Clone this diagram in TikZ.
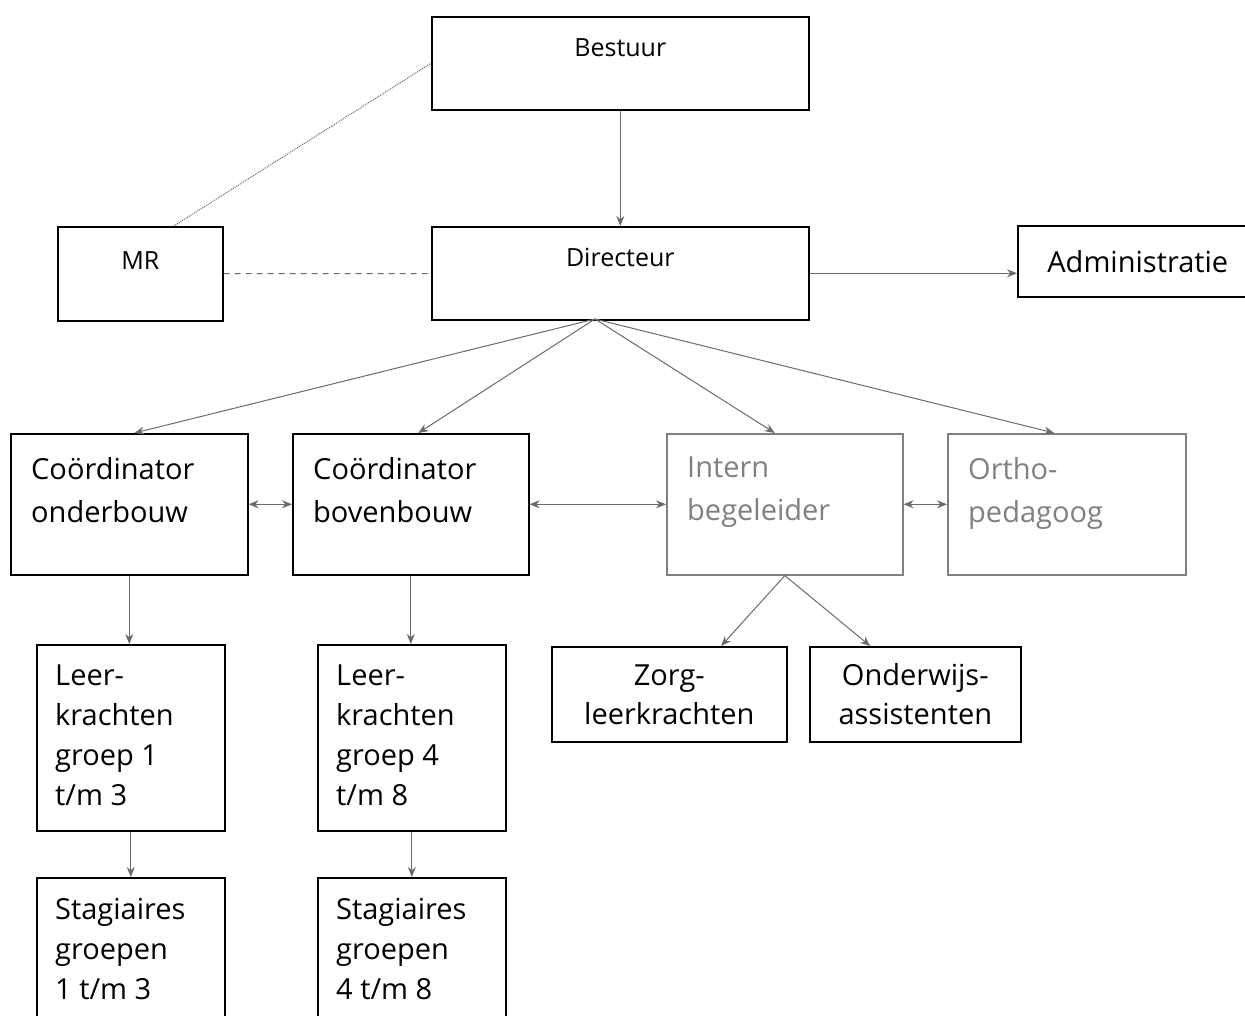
\documentclass[tikz,border=0pt]{standalone}
\usepackage{fontspec}
\setmainfont{Open Sans}
\usetikzlibrary{positioning}
\usetikzlibrary{arrows.meta}

\definecolor{lijngrijs}{gray}{0.42}
\definecolor{ibgrijs}{gray}{0.5}

\tikzset{
	blok/.style = {draw = black, line width = 1.6pt, rectangle, anchor = north west, inner sep = 0pt},
	grijsblok/.style = {blok, draw = ibgrijs},
	kop/.style = {anchor = north, inner sep = 0pt, font = \fontsize{25}{30}\selectfont, yshift = -22pt},
	binnen/.style = {anchor = north west, align = left, inner sep = 0pt, font = \fontsize{29}{43}\selectfont, xshift = 21pt, yshift = -24pt},
	binnenlk/.style = {anchor = north west, align = left, inner sep = 0pt, font = \fontsize{29}{40}\selectfont, xshift = 19pt, yshift = -21pt},
	lijn/.style = {lijngrijs, line width = 1pt},
	pijl/.style = {lijn, -{Stealth[length = 10pt, width = 8pt]}},
	dubbelpijl/.style = {lijn, {Stealth[length = 10pt, width = 8pt]}-{Stealth[length = 10pt, width = 8pt]}}
}

\begin{document}
\begin{tikzpicture}[x = 1pt, y = -1pt]
	\clip (0, 0) rectangle (1245, 1015);
	\fill [white] (0, 0) rectangle (1245, 1015);

	\node [blok, minimum width = 377pt, minimum height = 93pt, label = {[kop]north:Bestuur}] (bestuur) at (431, 16) {};
	\node [blok, minimum width = 377pt, minimum height = 93pt, label = {[kop]north:Directeur}] (directeur) at (431, 226) {};
	\node [blok, minimum width = 165pt, minimum height = 94pt, label = {[kop, yshift = -3pt]north:MR}] (mr) at (57, 226) {};
	\node [blok, minimum width = 240pt, minimum height = 71pt, font = \fontsize{29}{34}\selectfont] (admin) at (1017, 225) {Administratie};

	\node [blok, minimum width = 237pt, minimum height = 141pt, label = {[binnen]north west:Coördinator\\onderbouw}] (coon) at (10, 433) {};
	\node [blok, minimum width = 236pt, minimum height = 141pt, label = {[binnen]north west:Coördinator\\bovenbouw}] (cobo) at (292, 433) {};
	\node [grijsblok, minimum width = 236pt, minimum height = 141pt, label = {[binnen, ibgrijs]north west:Intern\\begeleider}] (ib) at (666, 433) {};
	\node [grijsblok, minimum width = 238pt, minimum height = 141pt, label = {[binnen, ibgrijs]north west:Ortho-\\pedagoog}] (op) at (947, 433) {};

	\node [blok, minimum width = 188pt, minimum height = 186pt, label = {[binnenlk]north west:Leer-\\krachten\\groep 1\\t/m 3}] (lk1) at (36, 644) {};
	\node [blok, minimum width = 188pt, minimum height = 186pt, label = {[binnenlk]north west:Leer-\\krachten\\groep 4\\t/m 8}] (lk4) at (317, 644) {};
	\node [blok, minimum width = 188pt, minimum height = 160pt, label = {[binnenlk]north west:Stagiaires\\groepen\\1 t/m 3}] (st1) at (36, 877) {};
	\node [blok, minimum width = 188pt, minimum height = 160pt, label = {[binnenlk]north west:Stagiaires\\groepen\\4 t/m 8}] (st4) at (317, 877) {};

	\node [blok, minimum width = 235pt, minimum height = 95pt, align = center, font = \fontsize{29}{39}\selectfont] (zorg) at (551, 646) {Zorg-\\leerkrachten};
	\node [blok, minimum width = 211pt, minimum height = 95pt, align = center, font = \fontsize{29}{39}\selectfont] (ow) at (809, 646) {Onderwijs-\\assistenten};

	\coordinate (dapex) at (595, 319);

	\draw [lijn, densely dotted] (mr.55) -- (bestuur.west);
	\draw [lijn, dash pattern = on 6pt off 5pt] (mr) -- (directeur);
	\draw [pijl] (bestuur) -- (directeur);
	\draw [pijl] (directeur.east) -- (directeur.east -| admin.west);

	\draw [pijl] (dapex) -- (coon.86);
	\draw [pijl] (dapex) -- (cobo.84);
	\draw [pijl] (dapex) -- (ib.98);
	\draw [pijl] (dapex) -- (op.100);

	\draw [dubbelpijl] (coon) -- (cobo);
	\draw [dubbelpijl] (cobo) -- (ib);
	\draw [dubbelpijl] (ib) -- (op);

	\draw [pijl] (coon.south) -- (coon.south |- lk1.north);
	\draw [pijl] (cobo.south) -- (cobo.south |- lk4.north);
	\draw [pijl] (lk1) -- (st1);
	\draw [pijl] (lk4) -- (st4);

	\draw [pijl] (ib.south) -- (zorg.43);
	\draw [pijl] (ib.south) -- (ow.133);
\end{tikzpicture}
\end{document}
